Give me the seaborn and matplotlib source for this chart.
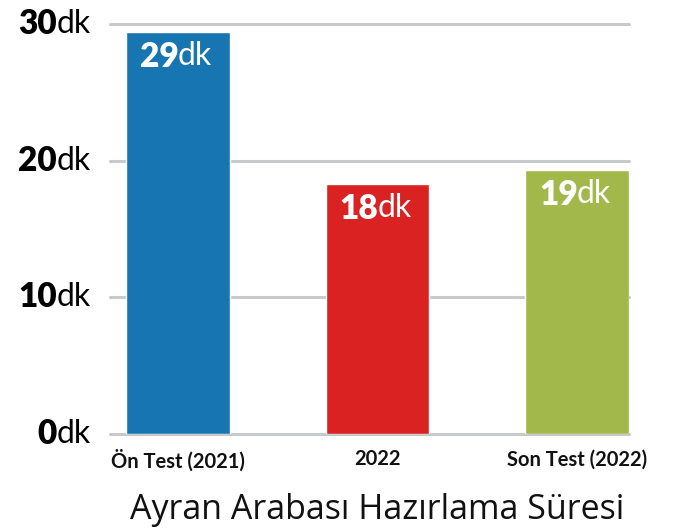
"""
Ayran Arabası hazırlama süresi - bar chart
"""
import matplotlib
import matplotlib.pyplot as plt
import seaborn as sns
from matplotlib.transforms import blended_transform_factory, offset_copy

# Data
categories = ['Ön Test (2021)', '2022', 'Son Test (2022)']
durations = [29.4, 18.3, 19.3]
duration_labels = ['29', '18', '19']
bar_colors = ['#1776b1', '#da2222', '#a2b84a']
ytick_values = [0, 10, 20, 30]

sns.set_style('white')
plt.rcParams['font.family'] = ['Lato', 'DejaVu Sans']
matplotlib.rcParams['axes.unicode_minus'] = False

fig = plt.figure(figsize=(6.79, 5.29), dpi=100)
ax = fig.add_axes([110 / 679, 1 - 434 / 529, 519 / 679, 410 / 529])

sns.barplot(x=categories, y=durations, hue=categories, palette=bar_colors,
            saturation=1, width=0.52, legend=False, ax=ax, zorder=3)

ax.set_xlim(-0.34, 2.26)
ax.set_ylim(0, 30)
sns.despine(ax=ax, left=True, bottom=True, top=True, right=True)

# gridlines (drawn by hand so the 0 and 30 lines are not clipped)
for v in ytick_values:
    ax.axhline(v, color='#c6cacd', lw=2.2, zorder=1, clip_on=False)

# y tick labels: bold number + regular "dk"
ax.set_yticks(ytick_values)
ax.set_yticklabels([])
ax.tick_params(axis='y', length=0)
trans = blended_transform_factory(fig.transFigure, ax.transData)
for v in ytick_values:
    ax.text(57 / 679, v, str(v), transform=trans, ha='right', va='center',
            fontsize=24, fontweight='heavy', color='black')
    ax.text(57 / 679, v, 'dk', transform=trans, ha='left', va='center',
            fontsize=23, color='black')

# x tick labels
ax.set_xlabel('')
ax.set_ylabel('')
ax.tick_params(axis='x', length=0, pad=11)
for lbl in ax.get_xticklabels():
    lbl.set_fontweight('bold')
    lbl.set_fontsize(14.5)
    lbl.set_color('#111111')

# value labels inside bars
for i, (val, txt) in enumerate(zip(durations, duration_labels)):
    t_num = offset_copy(ax.transData, fig=fig, x=1, y=-9, units='dots')
    t_dk = offset_copy(ax.transData, fig=fig, x=0, y=-9, units='dots')
    ax.text(i, val, txt, transform=t_num, ha='right', va='top',
            fontsize=24, fontweight='heavy', color='white', zorder=4)
    ax.text(i, val, 'dk', transform=t_dk, ha='left', va='top',
            fontsize=23, color='white', zorder=4)

fig.text(377 / 679, 1 - 510 / 529, 'Ayran Arabası Hazırlama Süresi',
         family=['Open Sans', 'DejaVu Sans'],
         ha='center', va='center', fontsize=24.5, color='#111111')

fig.savefig('out.png', dpi=100)
plt.close(fig)
